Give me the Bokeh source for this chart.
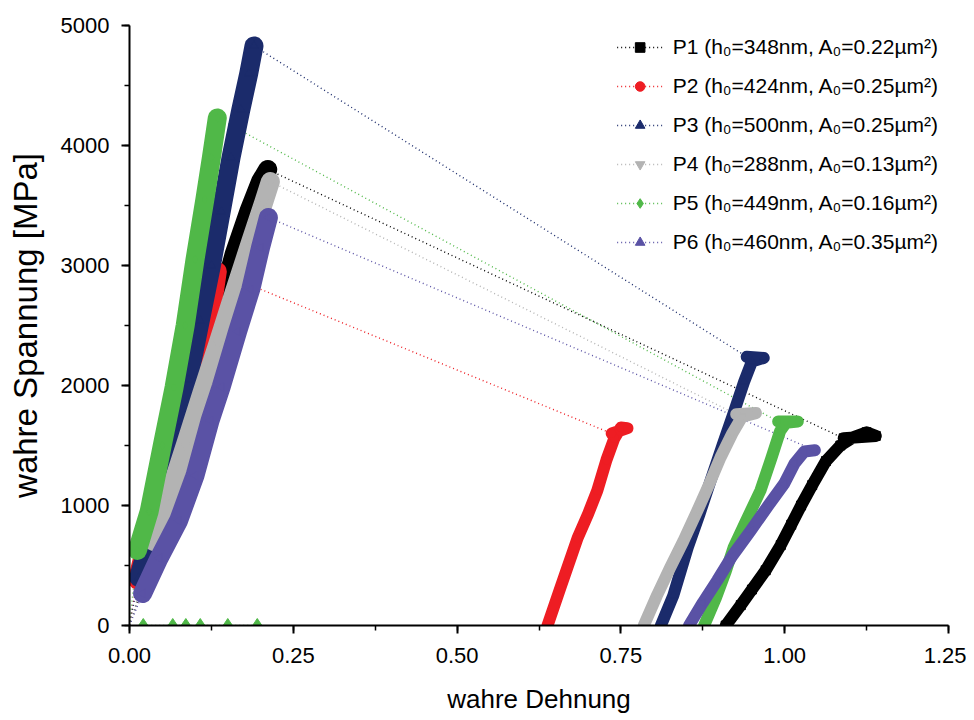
import math
from bokeh.plotting import figure
from bokeh.models import Range1d, SingleIntervalTicker, NumeralTickFormatter, Legend, LegendItem
from bokeh.embed import file_html
from bokeh.resources import INLINE

# ---------------- data ----------------
series_labels = [
    "P1 (h\u2080=348nm, A\u2080=0.22\u00b5m\u00b2)",
    "P2 (h\u2080=424nm, A\u2080=0.25\u00b5m\u00b2)",
    "P3 (h\u2080=500nm, A\u2080=0.25\u00b5m\u00b2)",
    "P4 (h\u2080=288nm, A\u2080=0.13\u00b5m\u00b2)",
    "P5 (h\u2080=449nm, A\u2080=0.16\u00b5m\u00b2)",
    "P6 (h\u2080=460nm, A\u2080=0.35\u00b5m\u00b2)",
]
origin_x = 0.0
origin_y = 0.0

# loading branch (true strain, true stress in MPa)
p1_load_x = [0.025, 0.048, 0.072, 0.095, 0.118, 0.140, 0.160, 0.182, 0.200, 0.211]
p1_load_y = [420, 900, 1380, 1850, 2300, 2700, 3100, 3450, 3700, 3800]
p2_load_x = [0.012, 0.020, 0.040, 0.065, 0.090, 0.110, 0.124, 0.130, 0.134]
p2_load_y = [380, 560, 950, 1450, 1950, 2350, 2600, 2800, 2950]
p3_load_x = [0.014, 0.030, 0.050, 0.075, 0.090, 0.108, 0.125, 0.140, 0.155, 0.170, 0.182, 0.190]
p3_load_y = [400, 700, 1150, 1700, 2050, 2540, 3000, 3450, 3900, 4300, 4600, 4830]
p4_load_x = [0.037, 0.060, 0.085, 0.110, 0.135, 0.160, 0.185, 0.205, 0.215]
p4_load_y = [700, 1080, 1500, 1930, 2350, 2780, 3200, 3530, 3700]
p5_load_x = [0.012, 0.030, 0.050, 0.068, 0.085, 0.100, 0.115, 0.125, 0.134]
p5_load_y = [625, 950, 1500, 1983, 2500, 3050, 3550, 3900, 4230]
p6_load_x = [0.020, 0.045, 0.075, 0.100, 0.123, 0.140, 0.165, 0.185, 0.200, 0.212]
p6_load_y = [267, 560, 875, 1250, 1708, 1990, 2450, 2800, 3150, 3400]

# second branch (listed from the strain axis up to where the jump lands)
p1_rel_x = [0.910, 0.933, 0.950, 0.971, 0.994, 1.010, 1.025, 1.042, 1.063, 1.085, 1.105, 1.125, 1.139, 1.090]
p1_rel_y = [0, 170, 300, 460, 670, 840, 1000, 1170, 1370, 1500, 1570, 1610, 1580, 1560]
p2_rel_x = [0.638, 0.658, 0.684, 0.700, 0.714, 0.728, 0.740, 0.750, 0.760, 0.736]
p2_rel_y = [0, 320, 730, 930, 1125, 1380, 1560, 1650, 1645, 1600]
p3_rel_x = [0.811, 0.830, 0.852, 0.870, 0.887, 0.905, 0.922, 0.938, 0.950, 0.968, 0.942]
p3_rel_y = [0, 250, 650, 930, 1210, 1500, 1770, 2030, 2200, 2230, 2240]
p4_rel_x = [0.785, 0.805, 0.825, 0.845, 0.867, 0.885, 0.902, 0.920, 0.935, 0.956, 0.926]
p4_rel_y = [0, 250, 480, 700, 960, 1180, 1400, 1600, 1740, 1770, 1760]
p5_rel_x = [0.877, 0.895, 0.910, 0.922, 0.940, 0.963, 0.980, 0.993, 1.002, 1.020, 0.990]
p5_rel_y = [0, 230, 450, 650, 860, 1125, 1400, 1620, 1690, 1700, 1700]
p6_rel_x = [0.854, 0.875, 0.897, 0.920, 0.948, 0.975, 0.999, 1.015, 1.030, 1.046]
p6_rel_y = [0, 190, 375, 580, 790, 1000, 1180, 1350, 1450, 1460]

# P5 points lying on the strain axis
p5_zero_x = [0.021, 0.066, 0.086, 0.108, 0.150, 0.195]
p5_zero_y = [0, 0, 0, 0, 0, 0]

x_ticks_interval = 0.25
y_ticks_interval = 1000

# ---------------- styles ----------------
colors = ["#000000", "#ee1d23", "#1b2b6b", "#b3b3b3", "#50b848", "#5a52a5"]
markers = ["square", "circle", "triangle", "inverted_triangle", "diamond", "triangle"]
angles = [0, 0, 0, 0, 0, math.pi / 2]
FONT = "Liberation Sans"

load_x = [p1_load_x, p2_load_x, p3_load_x, p4_load_x, p5_load_x, p6_load_x]
load_y = [p1_load_y, p2_load_y, p3_load_y, p4_load_y, p5_load_y, p6_load_y]
rel_x = [p1_rel_x, p2_rel_x, p3_rel_x, p4_rel_x, p5_rel_x, p6_rel_x]
rel_y = [p1_rel_y, p2_rel_y, p3_rel_y, p4_rel_y, p5_rel_y, p6_rel_y]

p = figure(width=966, height=720, output_backend="svg", toolbar_location=None,
           x_range=Range1d(0, 1.25), y_range=Range1d(0, 5000),
           min_border_left=129, min_border_right=18, min_border_top=25, min_border_bottom=95)
p.outline_line_color = None
p.grid.visible = False
p.background_fill_color = "white"
p.border_fill_color = "white"

# dotted connecting paths (drawn first, underneath)
dot_lines = []
for i in range(6):
    xs = [origin_x] + load_x[i] + rel_x[i][::-1]
    ys = [origin_y] + load_y[i] + rel_y[i][::-1]
    r = p.line(xs, ys, line_color=colors[i], line_width=1.4, line_dash="1 3")
    dot_lines.append(r)

p.line(p5_zero_x, p5_zero_y, line_color=colors[4], line_width=1.3, line_dash="1 3")

# dense bands of symbols
sym = []
for i in range(6):
    p.line(load_x[i], load_y[i], line_color=colors[i], line_width=19,
           line_cap="round", line_join="round")
    p.line(rel_x[i], rel_y[i], line_color=colors[i], line_width=12,
           line_cap="round", line_join="round")
    s = p.scatter(load_x[i] + rel_x[i], load_y[i] + rel_y[i], marker=markers[i],
                  angle=angles[i], size=9, fill_color=colors[i], line_color=colors[i])
    sym.append(s)

p.scatter(p5_zero_x, p5_zero_y, marker="diamond", size=14,
          fill_color=colors[4], line_color=colors[4])

# axes
for ax in (p.xaxis[0], p.yaxis[0]):
    ax.axis_line_width = 2
    ax.axis_line_color = "black"
    ax.major_tick_line_width = 2
    ax.minor_tick_line_width = 1.5
    ax.major_tick_in = 0
    ax.major_tick_out = 8
    ax.minor_tick_in = 0
    ax.minor_tick_out = 5
    ax.major_label_text_font = FONT
    ax.major_label_text_font_size = "22px"
    ax.major_label_text_color = "black"
    ax.axis_label_text_font = FONT
    ax.axis_label_text_font_style = "normal"
    ax.axis_label_text_color = "black"

p.xaxis.ticker = SingleIntervalTicker(interval=x_ticks_interval, num_minor_ticks=2)
p.yaxis.ticker = SingleIntervalTicker(interval=y_ticks_interval, num_minor_ticks=2)
p.xaxis.formatter = NumeralTickFormatter(format="0.00")
p.xaxis.major_label_standoff = 14
p.yaxis.major_label_standoff = 12
p.xaxis.axis_label = "wahre Dehnung"
p.yaxis.axis_label = "wahre Spannung [MPa]"
p.xaxis.axis_label_text_font_size = "26px"
p.yaxis.axis_label_text_font_size = "33px"
p.xaxis.axis_label_standoff = 18
p.yaxis.axis_label_standoff = 14

legend = Legend(
    items=[LegendItem(label=series_labels[i], renderers=[dot_lines[i], sym[i]]) for i in range(6)],
    location="top_right", margin=10, padding=20, spacing=15,
    glyph_width=46, glyph_height=24, label_height=20, label_standoff=10,
    label_text_font=FONT, label_text_font_size="21px", label_text_color="black",
    border_line_color=None, background_fill_alpha=0,
)
p.add_layout(legend)

open("out.html", "w").write(file_html(p, INLINE))
